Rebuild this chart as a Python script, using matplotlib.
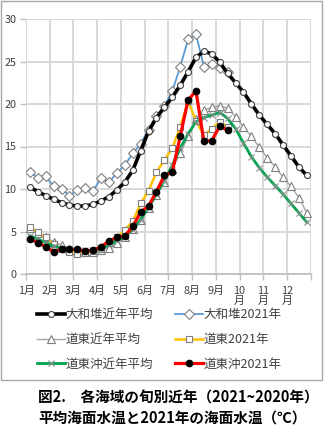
import matplotlib
matplotlib.use("Agg")
import matplotlib.pyplot as plt
from matplotlib.patches import Rectangle
import numpy as np

plt.rcParams['font.family'] = ['Noto Sans CJK JP', 'DejaVu Sans']

# 旬 (dekad) index: 36 per year
month_labels = ["1月", "2月", "3月", "4月", "5月", "6月", "7月", "8月", "9月",
                "10\n月", "11\n月", "12\n月", ""]

yamato_avg = [10.2, 9.7, 9.2, 8.8, 8.4, 8.1, 8.0, 8.0, 8.2, 8.6, 9.1, 9.9,
              10.8, 12.2, 14.5, 16.8, 18.4, 19.6, 20.8, 22.2, 23.8, 25.5, 26.2, 25.9,
              24.9, 23.6, 22.5, 21.4, 20.0, 18.7, 17.6, 16.5, 15.2, 13.9, 12.6, 11.6]
yamato_2021 = [12.0, 11.3, 11.5, 10.3, 10.0, 9.2, 9.9, 10.1, 9.8, 11.3, 10.8, 11.9,
               12.8, 14.2, 15.3, 17.0, 18.6, 19.8, 21.5, 24.4, 27.6, 28.2, 24.4, 24.7,
               24.2, 23.8]
doto_avg = [5.4, 4.8, 4.3, 3.8, 3.4, 3.0, 2.8, 2.6, 2.6, 2.8, 3.1, 3.6,
            4.3, 5.3, 6.4, 7.8, 9.3, 10.8, 12.4, 14.2, 16.2, 18.2, 19.3, 19.6,
            19.8, 19.5, 18.5, 17.3, 16.2, 14.9, 13.7, 12.6, 11.4, 10.3, 9.0, 7.2]
doto_2021 = [5.5, 4.9, 4.3, 3.5, 2.9, 2.6, 2.4, 2.5, 2.7, 3.0, 3.6, 4.3,
             5.2, 6.2, 8.3, 9.8, 12.0, 13.4, 14.8, 17.3, 20.3, 18.0, 16.3, 17.1,
             17.9, 17.3]
dotooki_avg = [4.5, 4.1, 3.7, 3.3, 3.0, 2.9, 2.8, 2.8, 2.8, 3.0, 3.4, 3.9,
               4.4, 5.2, 6.4, 7.8, 9.4, 11.0, 12.8, 14.8, 16.5, 17.9, 18.4, 18.7,
               19.0, 18.3, 17.1, 15.4, 13.8, 12.5, 11.4, 10.4, 9.4, 8.3, 7.2, 6.1]
dotooki_2021 = [4.1, 3.7, 3.2, 2.6, 2.9, 2.9, 2.9, 2.7, 2.8, 3.2, 3.9, 4.3,
                4.5, 5.6, 7.3, 8.0, 9.7, 11.6, 12.0, 16.2, 20.5, 21.5, 15.6, 15.7,
                17.4, 16.9]

series_names = ["大和堆近年平均", "大和堆2021年", "道東近年平均",
                "道東2021年", "道東沖近年平均", "道東沖2021年"]

W, H = 330, 442
fig = plt.figure(figsize=(W / 100, H / 100), dpi=100)
ax = fig.add_axes([26 / W, 1 - 274 / H, (310.7 - 26) / W, (274 - 19) / H])


def xs(vals):
    return np.arange(len(vals)) + 0.5


grid_c = "#d6d6d6"
ax.set_xlim(0, 36)
ax.set_ylim(0, 30)
ax.set_xticks(np.arange(0, 37, 3))
ax.set_xticklabels(month_labels, linespacing=1.05, va="top")
ax.set_yticks(np.arange(0, 31, 5))
ax.grid(True, color=grid_c, linewidth=1.3)
ax.set_axisbelow(True)
for s in ["top", "right", "left"]:
    ax.spines[s].set_visible(False)
ax.spines["bottom"].set_color("#bfbfbf")
ax.spines["bottom"].set_linewidth(1.3)
ax.tick_params(axis="both", colors="#bfbfbf", labelcolor="#404040",
               labelsize=7.8, length=4, width=1)
ax.tick_params(axis="x", pad=4.5)
ax.tick_params(axis="y", pad=3)

h1, = ax.plot(xs(yamato_2021), yamato_2021, color="#5b9bd5", lw=1.3,
              marker="D", ms=4.6, mfc="white", mec="#7f7f7f", mew=0.8, zorder=3,
              label=series_names[1])
h0, = ax.plot(xs(yamato_avg), yamato_avg, color="black", lw=2.6,
              marker="o", ms=4.3, mfc="white", mec="#404040", mew=0.8, zorder=4,
              label=series_names[0])
h2, = ax.plot(xs(doto_avg), doto_avg, color="#a5a5a5", lw=1.0,
              marker="^", ms=5.6, mfc="white", mec="#7f7f7f", mew=0.8, zorder=3,
              label=series_names[2])
h3, = ax.plot(xs(doto_2021), doto_2021, color="#ffc000", lw=1.8,
              marker="s", ms=4.4, mfc="white", mec="#7f7f7f", mew=0.8, zorder=4,
              label=series_names[3])
h4, = ax.plot(xs(dotooki_avg), dotooki_avg, color="#00a550", lw=2.0,
              marker="x", ms=5.0, mec="#8c8c8c", mew=0.8, zorder=5,
              label=series_names[4])
h5, = ax.plot(xs(dotooki_2021), dotooki_2021, color="#ff0000", lw=2.3,
              marker="o", ms=4.5, mfc="black", mec="black", zorder=6,
              label=series_names[5])

fig.legend(handles=[h0, h2, h4, h1, h3, h5], labels=[series_names[i] for i in (0, 2, 4, 1, 3, 5)],
           ncol=2, loc="upper left", bbox_to_anchor=(37 / W, 1 - 308 / H),
           frameon=False, fontsize=9, handlelength=2.2, handletextpad=0.1,
           columnspacing=1.75, labelspacing=0.95, labelcolor="#404040",
           borderaxespad=0, borderpad=0)

# outer chart frame
fig.patches.append(Rectangle((0.5 / W, 1 - 380 / H), 321 / W, 379.5 / H,
                             transform=fig.transFigure, fill=False,
                             edgecolor="#a6a6a6", linewidth=1.0))

fig.text(38 / W, 1 - 398 / H, "図2.　各海域の旬別近年（2021~2020年）",
         fontsize=10.5, fontweight="bold", va="center", ha="left")
fig.text(38 / W, 1 - 418 / H, "平均海面水温と2021年の海面水温（℃）",
         fontsize=10.5, fontweight="bold", va="center", ha="left")

fig.savefig("out.png", dpi=100)
